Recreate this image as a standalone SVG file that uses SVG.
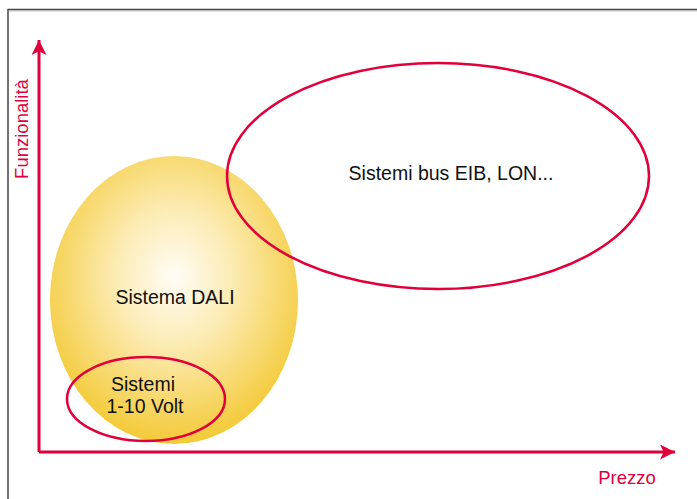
<svg xmlns="http://www.w3.org/2000/svg" width="697" height="499" viewBox="0 0 697 499">
<defs>
<style>
.lbl{font-family:"Liberation Sans",Arial,sans-serif;font-size:19.5px;fill:#111;text-anchor:middle}
.ax{font-family:"Liberation Sans",Arial,sans-serif;font-size:18.5px;fill:#e2003a;text-anchor:middle}
.red{fill:none;stroke:#e2003a;stroke-width:2.5}
.axis{fill:none;stroke:#e2003a;stroke-width:3}
</style>
<radialGradient id="gold" cx="0.5" cy="0.42" r="0.6">
<stop offset="0" stop-color="#fffdf7"/>
<stop offset="0.4" stop-color="#fcebb2"/>
<stop offset="1" stop-color="#f3c830"/>
</radialGradient>
<marker id="ah" viewBox="0 0 10 10" refX="10" refY="5" markerWidth="8" markerHeight="5" markerUnits="strokeWidth" orient="auto">
<path d="M0,0 L10,5 L0,10 L2.5,5 Z" fill="#e2003a"/>
</marker>
</defs>
<rect width="697" height="499" fill="#fff"/>
<path d="M8,499 V9.5 H697" fill="none" stroke="#444" stroke-width="1.5"/>
<path d="M8,10 H697" stroke="#999" stroke-width="0.6" transform="translate(0,1)"/>
<g id="dali">
<ellipse cx="174" cy="300" rx="124" ry="144" fill="url(#gold)"/>
<text class="lbl" x="175" y="304">Sistema DALI</text>
</g>
<g id="bus">
<ellipse class="red" cx="438" cy="176" rx="211" ry="113"/>
<text class="lbl" x="451" y="180">Sistemi bus EIB, LON...</text>
</g>
<g id="volt">
<ellipse class="red" cx="146" cy="399" rx="79" ry="42"/>
<text class="lbl" x="143" y="391">Sistemi</text>
<text class="lbl" x="145" y="413">1-10 Volt</text>
</g>
<g id="connectors">
<path class="axis" d="M39,452 V40" marker-end="url(#ah)"/>
<path class="axis" d="M39,452 H675" marker-end="url(#ah)"/>
</g>
<text class="ax" transform="translate(28,129) rotate(-90)">Funzionalità</text>
<text class="ax" x="627" y="484">Prezzo</text>
</svg>
